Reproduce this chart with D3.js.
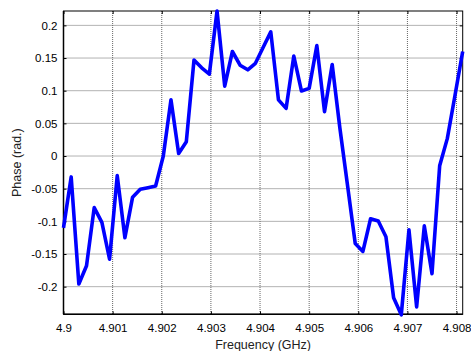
<!DOCTYPE html>
<html><head><meta charset="utf-8">
<script src="https://cdn.jsdelivr.net/npm/d3@7"></script>
<style>body{margin:0;background:#fff}svg{display:block}text{font-family:"Liberation Sans",Arial,sans-serif}</style>
</head><body>
<svg id="c" width="471" height="351"></svg>
<script>
const freqStart = 4.9;
const freqStep = 0.00015625;
const phase = [-0.110,-0.032,-0.196,-0.168,-0.079,-0.1015,-0.158,-0.030,-0.125,-0.063,
  -0.051,-0.0485,-0.046,0.000,0.086,0.004,0.022,0.147,0.135,0.1255,
  0.222,0.107,0.160,0.139,0.132,0.142,0.166,0.190,0.086,0.073,
  0.153,0.0995,0.1036,0.169,0.068,0.140,0.043,-0.045,-0.134,-0.146,
  -0.096,-0.0995,-0.1235,-0.217,-0.243,-0.113,-0.231,-0.107,-0.180,-0.015,
  0.027,0.093,0.160];
const xTicks = [4.9,4.901,4.902,4.903,4.904,4.905,4.906,4.907,4.908];
const xTickLabels = ["4.9","4.901","4.902","4.903","4.904","4.905","4.906","4.907","4.908"];
const yTicks = [-0.2,-0.15,-0.1,-0.05,0,0.05,0.1,0.15,0.2];
const yTickLabels = ["-0.2","-0.15","-0.1","-0.05","0","0.05","0.1","0.15","0.2"];
const xLabel = "Frequency (GHz)";
const yLabel = "Phase (rad.)";

const data = phase.map((v,i)=>({f: freqStart + i*freqStep, p: v}));

const L=63.5, R=462.7, T=11, B=314.3;
const svg = d3.select("#c");
const x = d3.scaleLinear().domain([freqStart, freqStart + (phase.length-1)*freqStep]).range([L,R]);
const y = d3.scaleLinear().domain([-0.2423, 0.222]).range([B,T]);

// grid
const g = svg.append("g");
g.selectAll(".gx").data(xTicks).join("line")
  .attr("x1",d=>x(d)).attr("x2",d=>x(d)).attr("y1",T).attr("y2",B)
  .attr("stroke","#666").attr("stroke-width",1).attr("stroke-dasharray","1,1");
g.selectAll(".gy").data(yTicks).join("line")
  .attr("y1",d=>y(d)).attr("y2",d=>y(d)).attr("x1",L).attr("x2",R)
  .attr("stroke","#666").attr("stroke-width",1).attr("stroke-dasharray","1,1");

// axes
const fs = "11.5px";
const ax = svg.append("g").attr("transform",`translate(0,${B})`)
  .call(d3.axisBottom(x).tickValues(xTicks).tickFormat((d,i)=>xTickLabels[i]).tickSizeInner(-3).tickSizeOuter(0).tickPadding(10));
const ay = svg.append("g").attr("transform",`translate(${L},0)`)
  .call(d3.axisLeft(y).tickValues(yTicks).tickFormat((d,i)=>yTickLabels[i]).tickSizeInner(-3).tickSizeOuter(0).tickPadding(6));
const axT = svg.append("g").attr("transform",`translate(0,${T})`)
  .call(d3.axisTop(x).tickValues(xTicks).tickFormat("").tickSizeInner(-3).tickSizeOuter(0));
const ayR = svg.append("g").attr("transform",`translate(${R},0)`)
  .call(d3.axisRight(y).tickValues(yTicks).tickFormat("").tickSizeInner(-3).tickSizeOuter(0));
[ax,ay,axT,ayR].forEach(a=>{
  a.select(".domain").remove();
  a.selectAll("line").attr("stroke","#000");
  a.selectAll("text").attr("fill","#000").style("font-size",fs).style("font-family","'Liberation Sans',Arial,sans-serif");
});

// box
svg.append("rect").attr("x",L).attr("y",T).attr("width",R-L).attr("height",B-T)
  .attr("fill","none").attr("stroke","#000").attr("stroke-width",1);
svg.append("line").attr("x1",L).attr("x2",R).attr("y1",B).attr("y2",B).attr("stroke","#000").attr("stroke-width",1.5);
svg.append("line").attr("x1",L).attr("x2",L).attr("y1",T).attr("y2",B).attr("stroke","#000").attr("stroke-width",1.5);

// line
svg.append("path").datum(data)
  .attr("d", d3.line().x(d=>x(d.f)).y(d=>y(d.p)))
  .attr("fill","none").attr("stroke","#0000ff").attr("stroke-width",3.6).attr("stroke-linejoin","round");

// labels
svg.append("text").attr("x",(L+R)/2).attr("y",349).attr("text-anchor","middle")
  .style("font-size","12.5px").attr("fill","#222").text(xLabel);
svg.append("text").attr("transform",`translate(21,${(T+B)/2}) rotate(-90)`).attr("text-anchor","middle")
  .style("font-size","12.5px").attr("fill","#222").text(yLabel);
</script>
</body></html>
